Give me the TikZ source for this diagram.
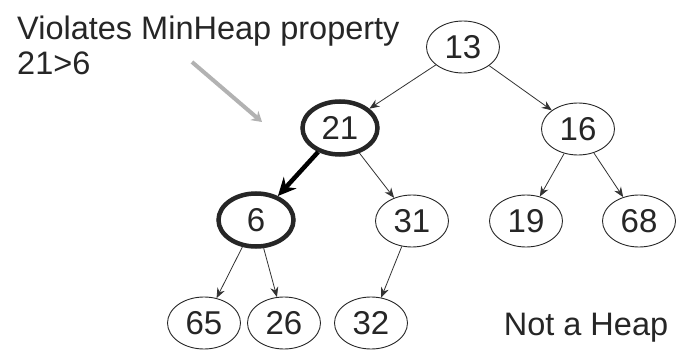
\documentclass[tikz,border=0pt]{standalone}
\usepackage{fontspec}
\setmainfont{Liberation Sans}
\usetikzlibrary{shapes.geometric,arrows.meta}
\begin{document}
\begin{tikzpicture}[x=1pt,y=-1pt,
  hnode/.style={ellipse,draw=black!85,line width=0.9pt,minimum width=73pt,minimum height=52pt,inner sep=0pt,
    font=\fontsize{33}{36}\selectfont,text=black!85},
  hbold/.style={hnode,line width=4.5pt,minimum width=75pt,minimum height=53pt},
  edge/.style={draw=black!80,line width=0.8pt,-{Stealth[length=10pt,width=8pt]}},
  bedge/.style={draw=black,line width=4.5pt,-{Stealth[length=18pt,width=17pt]}},
  label/.style={font=\fontsize{32.5}{35}\selectfont,text=black!85,inner sep=0pt}]
\useasboundingbox (0,0) rectangle (680,350);
\fill[white] (0,0) rectangle (680,350);
% nodes
\node[hnode] (n13) at (463,47) {13};
\node[hbold] (n21) at (340,128) {21};
\node[hnode] (n16) at (578,129) {16};
\node[hbold] (n6)  at (256,220) {6};
\node[hnode] (n31) at (412,221) {31};
\node[hnode] (n19) at (526,221) {19};
\node[hnode] (n68) at (639,221) {68};
\node[hnode] (n65) at (204,323) {65};
\node[hnode] (n26) at (284,323) {26};
\node[hnode] (n32) at (371,323) {32};
% texts
\node[label,anchor=north west,align=left] (viol) at (17,16) {Violates MinHeap property\\21>6};
\node[label,anchor=base] (nah) at (586,335) {Not a Heap};
% faint pointer arrow
\coordinate (pa) at (192,62);
\coordinate (pb) at (262,122);
\draw[draw=black!30,line width=4pt,-{Stealth[length=10pt,width=12pt]}] (pa) -- (pb);
% edges
\draw[edge] (n13) -- (n21);
\draw[edge] (n13) -- (n16);
\draw[edge] (n21) -- (n31);
\draw[bedge] (n21) -- (n6);
\draw[edge] (n16) -- (n19);
\draw[edge] (n16) -- (n68);
\draw[edge] (n6) -- (n65);
\draw[edge] (n6) -- (n26);
\draw[edge] (n31) -- (n32);
\end{tikzpicture}
\end{document}
